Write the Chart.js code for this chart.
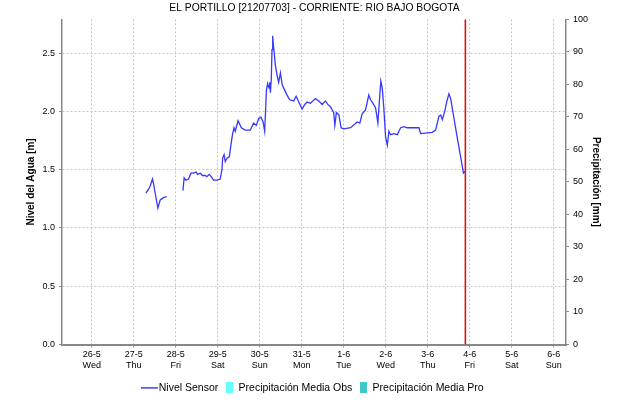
<!DOCTYPE html>
<html>
<head>
<meta charset="utf-8">
<script src="https://cdn.jsdelivr.net/npm/chart.js@4/dist/chart.umd.min.js"></script>
<style>
  html, body { margin: 0; padding: 0; background: #fff; }
  #wrap { width: 618px; height: 403px; position: relative; }
</style>
</head>
<body>
<div id="wrap"><canvas id="canvas"></canvas></div>
<script>
// hours counted from 26-5 00:00
const dayHours = [0, 24, 48, 72, 96, 120, 144, 168, 192, 216, 240, 264];
const dayLabels = ['26-5', '27-5', '28-5', '29-5', '30-5', '31-5', '1-6', '2-6', '3-6', '4-6', '5-6', '6-6'];
const weekdays = ['Wed', 'Thu', 'Fri', 'Sat', 'Sun', 'Mon', 'Tue', 'Wed', 'Thu', 'Fri', 'Sat', 'Sun'];

const sensorHours = [
  30.9, 32.4, 33.4, 34.7, 35.3, 36.6, 37.8, 39.1, 41.0, 42.9,
  47,
  52.1, 52.8, 53.8, 55.3, 56.7, 58.2, 59.7, 60.4, 62.0, 63.3, 64.9, 65.8, 67.1, 68.3, 69.6,
  71.6, 73.4, 74.4, 74.8, 75.6, 76.3, 77.4, 78.6, 79.7, 80.5, 81.3, 82.0, 83.6, 85.5, 87.7,
  90.6, 92.5, 94.0, 95.4, 96.7, 97.9, 98.8, 99.4, 99.8, 100.5, 101.3, 101.7, 102.1, 102.6,
  103.0, 103.4, 103.8, 104.4, 104.9, 105.9, 106.8, 107.8, 108.8, 109.7, 111.6, 113.1, 115.4,
  116.8, 118.3, 120.2, 121.7, 123.1, 125.0, 127.8, 129.7, 131.7, 133.5, 134.9, 136.4, 138.3,
  138.9, 139.8, 141.2, 142.5, 144.0, 147.9, 151.7, 153.2, 154.5, 156.4, 158.3, 159.3, 160.3,
  162.2, 163.5, 164.6, 165.2, 166.0, 166.9, 167.9, 168.9, 169.8, 170.8, 172.6, 174.6, 176.5,
  178.4, 180.3, 187.0, 187.9, 194.6, 196.5, 198.4, 199.4, 200.3, 201.7, 202.8, 204.1, 205.1,
  207.0, 208.9, 210.8, 212.4, 213.7
];
const sensorLevels = [
  1.30, 1.33, 1.36, 1.42, 1.38, 1.27, 1.17, 1.24, 1.26, 1.27,
  null,
  1.32, 1.43, 1.41, 1.42, 1.47, 1.47, 1.48, 1.46, 1.47, 1.45, 1.45, 1.44, 1.46, 1.44, 1.41,
  1.41, 1.42, 1.50, 1.60, 1.63, 1.57, 1.60, 1.61, 1.73, 1.81, 1.86, 1.83, 1.92, 1.86, 1.84,
  1.84, 1.90, 1.88, 1.94, 1.95, 1.91, 1.83, 2.03, 2.18, 2.24, 2.20, 2.25, 2.16, 2.28,
  2.53, 2.65, 2.57, 2.48, 2.40, 2.31, 2.25, 2.33, 2.23, 2.20, 2.14, 2.10, 2.09,
  2.13, 2.08, 2.02, 2.06, 2.08, 2.07, 2.11, 2.09, 2.06, 2.09, 2.06, 2.04, 1.99,
  1.88, 1.99, 1.97, 1.86, 1.85, 1.86, 1.91, 1.90, 1.98, 2.01, 2.14, 2.10, 2.08,
  2.03, 1.90, 2.14, 2.26, 2.20, 2.03, 1.78, 1.71, 1.83, 1.80, 1.81, 1.80, 1.86,
  1.87, 1.86, 1.86, 1.81, 1.82, 1.84, 1.96, 1.97, 1.93, 2.00, 2.08, 2.15, 2.11,
  1.94, 1.77, 1.61, 1.47, 1.49
];
const nowHour = 213.5;

// precipitation series: no values reported in the period shown
const precipObs = [];
const precipPro = [];

Chart.defaults.font.family = '"Liberation Sans", Arial, sans-serif';
Chart.defaults.color = '#000';

function swatch(w, h, draw) {
  const c = document.createElement('canvas');
  c.width = w; c.height = h;
  draw(c.getContext('2d'));
  return c;
}
const lineSwatch = swatch(17, 3, g => { g.fillStyle = '#2020ff'; g.fillRect(0, 1, 17, 1.4); });
const obsSwatch = swatch(7, 11, g => { g.fillStyle = '#66ffff'; g.fillRect(0, 0, 7, 11); });
const proSwatch = swatch(7, 11, g => { g.fillStyle = '#40c8c8'; g.fillRect(0, 0, 7, 11); });

const gridDash = [2, 2];

let ctx = document.getElementById('canvas').getContext('2d');

const data = {
  datasets: [{
    type: 'line',
    label: 'Nivel Sensor',
    data: sensorHours.map((h, i) => ({x: h, y: sensorLevels[i]})),
    borderColor: 'rgb(55,55,255)',
    borderWidth: 1.3,
    pointRadius: 0,
    tension: 0,
    spanGaps: false,
    yAxisID: 'y'
  }, {
    type: 'bar',
    label: 'Precipitación Media Obs',
    data: precipObs,
    backgroundColor: '#66ffff',
    yAxisID: 'y1'
  }, {
    type: 'bar',
    label: 'Precipitación Media Pro',
    data: precipPro,
    backgroundColor: '#40c8c8',
    yAxisID: 'y1'
  }, {
    type: 'line',
    label: 'now',
    data: [{x: nowHour, y: 0}, {x: nowHour, y: 100}],
    borderColor: '#e01010',
    borderWidth: 1.6,
    pointRadius: 0,
    yAxisID: 'y1'
  }]
};

const options = {
  responsive: true,
  maintainAspectRatio: false,
  animation: false,
  layout: { padding: { left: 11 } },
  plugins: {
    title: {
      display: true,
      text: 'EL PORTILLO [21207703] - CORRIENTE: RIO BAJO BOGOTA',
      font: { size: 10.3, weight: 'normal' },
      color: '#000',
      padding: { top: 2, bottom: 5 }
    },
    legend: {
      display: true,
      position: 'bottom',
      labels: {
        usePointStyle: true,
        pointStyleWidth: 8,
        boxHeight: 10,
        padding: 7,
        font: { size: 10.5 },
        color: '#000',
        generateLabels: () => [
          { text: 'Nivel Sensor', pointStyle: lineSwatch, datasetIndex: 0, lineWidth: 0, strokeStyle: 'transparent', fillStyle: 'transparent' },
          { text: 'Precipitación Media Obs', pointStyle: obsSwatch, datasetIndex: 1, lineWidth: 0, strokeStyle: 'transparent', fillStyle: 'transparent' },
          { text: 'Precipitación Media Pro', pointStyle: proSwatch, datasetIndex: 2, lineWidth: 0, strokeStyle: 'transparent', fillStyle: 'transparent' }
        ]
      }
    },
    tooltip: { enabled: false }
  },
  scales: {
    x: {
      type: 'linear',
      min: -17,
      max: 271,
      offset: false,
      afterBuildTicks: scale => { scale.ticks = dayHours.map(v => ({value: v})); },
      afterFit: scale => { scale.height = 31; },
      ticks: {
        autoSkip: false,
        maxRotation: 0,
        padding: 2,
        font: { size: 9 },
        callback: (value) => {
          const i = dayHours.indexOf(value);
          return i < 0 ? '' : [dayLabels[i], weekdays[i]];
        }
      },
      grid: { offset: false, color: '#c4c4c4', tickLength: 3, tickColor: '#999' },
      border: { color: '#888', width: 2, dash: gridDash }
    },
    y: {
      position: 'left',
      min: 0,
      max: 2.79,
      afterFit: scale => { scale.width = 51; },
      ticks: {
        stepSize: 0.5,
        includeBounds: false,
        padding: 4,
        font: { size: 9 },
        callback: v => v.toFixed(1)
      },
      grid: { color: '#c4c4c4', tickLength: 3, tickColor: '#888' },
      border: { color: '#888', width: 1.5, dash: gridDash },
      title: {
        display: true,
        text: 'Nivel del Agua [m]',
        font: { size: 10, weight: 'bold' },
        padding: { top: 14, bottom: 0 }
      }
    },
    y1: {
      position: 'right',
      min: 0,
      max: 100,
      afterFit: scale => { scale.width = 52; },
      ticks: {
        stepSize: 10,
        padding: 4,
        font: { size: 9 }
      },
      grid: { drawOnChartArea: false, tickLength: 3, tickColor: '#888' },
      border: { color: '#888', width: 1.5 },
      title: {
        display: true,
        text: 'Precipitación [mm]',
        font: { size: 10, weight: 'bold' },
        padding: { top: 16, bottom: 0 }
      }
    }
  }
};

let chart = new Chart(ctx, { data: data, options: options });
</script>
</body>
</html>
